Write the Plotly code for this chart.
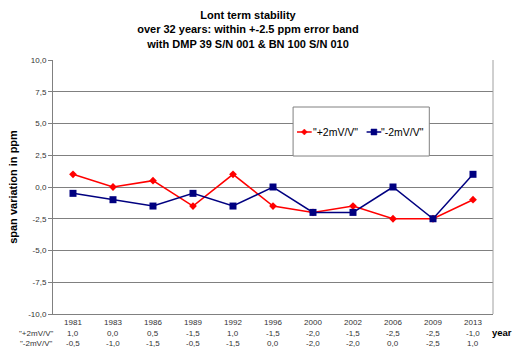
import plotly.graph_objects as go

years = ["1981", "1983", "1986", "1989", "1992", "1996", "2000", "2002", "2006", "2009", "2013"]
plus_2mv = [1.0, 0.0, 0.5, -1.5, 1.0, -1.5, -2.0, -1.5, -2.5, -2.5, -1.0]
minus_2mv = [-0.5, -1.0, -1.5, -0.5, -1.5, 0.0, -2.0, -2.0, 0.0, -2.5, 1.0]
series_names = ['"+2mV/V"', '"-2mV/V"']
series_colors = ["#FF0000", "#000080"]
y_ticks = [-10.0, -7.5, -5.0, -2.5, 0.0, 2.5, 5.0, 7.5, 10.0]


def de_fmt(v):
    return f"{v:.1f}".replace(".", ",")


FONT = "Liberation Sans, Arial, sans-serif"
W, H = 513, 349
L, R, T, B = 44, 20, 60, 35
pw, ph = W - L - R, H - T - B


def px_x(p):
    return (p - L) / pw


def px_y(p):
    return (H - B - p) / ph


fig = go.Figure()
fig.add_trace(go.Scatter(
    x=years, y=plus_2mv, name=series_names[0], mode="lines+markers",
    line=dict(color=series_colors[0], width=1.5),
    marker=dict(symbol="diamond", size=6, color=series_colors[0]),
    showlegend=False,
))
fig.add_trace(go.Scatter(
    x=years, y=minus_2mv, name=series_names[1], mode="lines+markers",
    line=dict(color=series_colors[1], width=1.5),
    marker=dict(symbol="square", size=7, color=series_colors[1]),
    showlegend=False,
))

annotations = []
shapes = [
    # right border of plot area
    dict(type="line", xref="paper", yref="paper", x0=1, x1=1, y0=0, y1=1,
         line=dict(color="#A0A0A0", width=1)),
    # legend frame
    dict(type="rect", xref="paper", yref="paper",
         x0=px_x(289), x1=px_x(428), y0=px_y(156), y1=px_y(107),
         line=dict(color="#808080", width=1), fillcolor="white", layer="above"),
]

# data table beneath the category axis
for row, (label, vals) in enumerate(zip(series_names, [plus_2mv, minus_2mv])):
    yy = px_y(333 + row * 10)
    annotations.append(dict(xref="paper", yref="paper", x=px_x(27), y=yy,
                            text=label, showarrow=False, xanchor="center", yanchor="middle",
                            font=dict(size=8, color="#333333", family=FONT)))
    for i, v in enumerate(vals):
        annotations.append(dict(xref="x", yref="paper", x=i, y=yy,
                                text=de_fmt(v), showarrow=False, xanchor="center", yanchor="middle",
                                font=dict(size=8, color="#333333", family=FONT)))
annotations.append(dict(xref="paper", yref="paper", x=px_x(490), y=px_y(332),
                        text="<b>year</b>", showarrow=False, xanchor="left", yanchor="middle",
                        font=dict(size=9.5, color="#000000", family=FONT)))

# legend entries: short line + marker + label
legend_items = [(293, 307), (364, 377)]
ly = px_y(132)
for (sx, tx), name, col, sym in zip(legend_items, series_names, series_colors, ["diamond", "square"]):
    shapes.append(dict(type="line", xref="paper", yref="paper",
                       x0=px_x(sx), x1=px_x(sx + 15), y0=ly, y1=ly,
                       line=dict(color=col, width=1.5), layer="above"))
    cx, cy = sx + 7.5, 132
    if sym == "diamond":
        path = (f"M {px_x(cx)},{px_y(cy - 3)} L {px_x(cx + 3)},{px_y(cy)} "
                f"L {px_x(cx)},{px_y(cy + 3)} L {px_x(cx - 3)},{px_y(cy)} Z")
        shapes.append(dict(type="path", xref="paper", yref="paper", path=path,
                           fillcolor=col, line=dict(color=col, width=0.5), layer="above"))
    else:
        shapes.append(dict(type="rect", xref="paper", yref="paper",
                           x0=px_x(cx - 3), x1=px_x(cx + 3), y0=px_y(cy + 3), y1=px_y(cy - 3),
                           fillcolor=col, line=dict(color=col, width=0.5), layer="above"))
    annotations.append(dict(xref="paper", yref="paper", x=px_x(tx), y=ly,
                            text=name, showarrow=False, xanchor="left", yanchor="middle",
                            font=dict(size=10.5, color="#000000", family=FONT)))

fig.update_layout(
    width=W, height=H,
    margin=dict(l=L, r=R, t=T, b=B),
    paper_bgcolor="white", plot_bgcolor="white",
    font=dict(family=FONT, color="#000000"),
    title=dict(
        text="<b>Lont term stability<br>over 32 years: within +-2.5 ppm error band<br>with DMP 39 S/N 001 & BN 100 S/N 010</b>",
        x=248 / W, xanchor="center", xref="container",
        y=1 - 19 / H, yanchor="top", yref="container",
        font=dict(size=11, family=FONT, color="#000000"),
    ),
    xaxis=dict(
        type="category", range=[-0.5, len(years) - 0.5], showgrid=False, zeroline=False,
        showline=True, linecolor="#808080", linewidth=1, mirror=False,
        tickfont=dict(size=8, color="#333333", family=FONT),
        ticks="",
    ),
    yaxis=dict(
        range=[-10, 10], tickvals=y_ticks, ticktext=[de_fmt(v) for v in y_ticks],
        showgrid=True, gridcolor="#808080", gridwidth=1,
        zeroline=True, zerolinecolor="#808080", zerolinewidth=1,
        showline=True, linecolor="#808080", linewidth=1,
        ticks="outside", ticklen=4, tickcolor="#808080",
        tickfont=dict(size=8, color="#333333", family=FONT),
        title=dict(text="<b>span variation in ppm</b>", standoff=8,
                   font=dict(size=11, family=FONT, color="#000000")),
    ),
    showlegend=False,
    annotations=annotations,
    shapes=shapes,
)

fig.write_html("out.html")
